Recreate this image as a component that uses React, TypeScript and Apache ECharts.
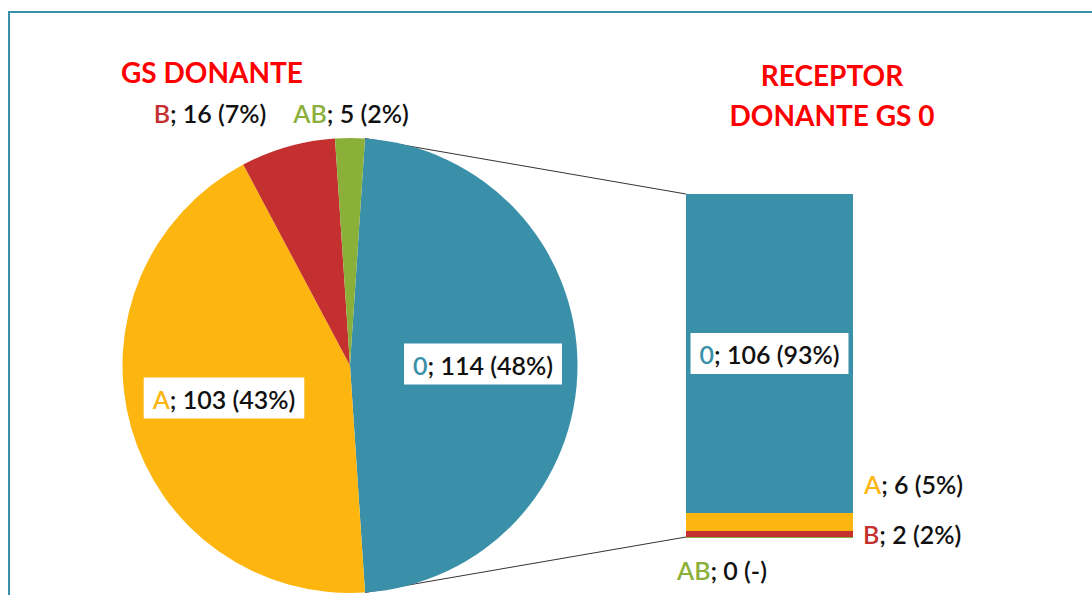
import React, { useEffect, useRef } from "react";
import * as echarts from "echarts";

const categories = ["0", "A", "B", "AB"];
const donorValues = [114, 103, 16, 5];
const donorPct = ["48%", "43%", "7%", "2%"];
const recipientValues = [106, 6, 2, 0];
const recipientPct = ["93%", "5%", "2%", "-"];
const colors = ["#3A90A8", "#FDB60F", "#C3302F", "#8BB03A"];

const FONT = "Lato";
const PIE_CX = 350;
const PIE_CY = 365.5;
const PIE_R = 227.5;
const BAR_LEFT = 686;
const BAR_TOP = 194;
const BAR_W = 167;
const BAR_H = 343;

const rich: any = {
  t: { color: "#111111", fontSize: 25, fontFamily: FONT, fontWeight: 600 },
};
categories.forEach((c, i) => {
  rich["k" + i] = { color: colors[i], fontSize: 25, fontFamily: FONT, fontWeight: 600 };
});

export default function App() {
  const ref = useRef<HTMLDivElement>(null);
  useEffect(() => {
    if (!ref.current) return;
    const chart = echarts.init(ref.current, null, { renderer: "svg" });
    const total = donorValues.reduce((a, b) => a + b, 0);
    const startAngle = (donorValues[0] / total) * 180;
    const rad = (startAngle * Math.PI) / 180;
    const topPt = [PIE_CX + PIE_R * Math.cos(rad), PIE_CY - PIE_R * Math.sin(rad)];
    const botPt = [PIE_CX + PIE_R * Math.cos(rad), PIE_CY + PIE_R * Math.sin(rad)];

    const pieLabelPos: Record<number, [number, number]> = {
      0: [483, 364],
      1: [224, 398],
      2: [210, 113],
      3: [351, 113],
    };

    const stackOrder = [3, 2, 1, 0];
    const barLabel = (i: number): any => {
      const base: any = {
        show: true,
        formatter: () => `{k${i}|${categories[i]}}{t|; ${recipientValues[i]} (${recipientPct[i]})}`,
        rich,
      };
      if (i === 0) {
        return { ...base, position: "inside", backgroundColor: "#fff", padding: [9, 9, 7, 9] };
      }
      if (i === 1) return { ...base, position: [178, -29], align: "left", verticalAlign: "middle" };
      if (i === 2) return { ...base, position: [177, 3], align: "left", verticalAlign: "middle" };
      return { ...base, position: [-8, 34], align: "left", verticalAlign: "middle" };
    };

    const option: any = {
      animation: false,
      backgroundColor: "#ffffff",
      title: [
        {
          text: "GS DONANTE",
          left: 207,
          top: 53,
          textAlign: "center",
          textStyle: { color: "#FF0000", fontSize: 28, fontWeight: "bold", fontFamily: FONT },
        },
        {
          text: "RECEPTOR\nDONANTE GS 0",
          left: 827,
          top: 50,
          textAlign: "center",
          textStyle: { color: "#FF0000", fontSize: 28, fontWeight: "bold", fontFamily: FONT, lineHeight: 40 },
        },
      ],
      grid: { left: BAR_LEFT, top: BAR_TOP, width: BAR_W, height: BAR_H },
      xAxis: { type: "category", data: ["GS 0"], show: false },
      yAxis: { type: "value", min: 0, max: donorValues[0], show: false },
      graphic: [
        {
          type: "rect",
          shape: { x: 9, y: 12, width: 1300, height: 800 },
          style: { fill: "none", stroke: "#3A90A8", lineWidth: 2 },
          z: 100,
        },
        {
          type: "line",
          shape: { x1: topPt[0], y1: topPt[1], x2: BAR_LEFT, y2: BAR_TOP },
          style: { stroke: "#333", lineWidth: 1 },
        },
        {
          type: "line",
          shape: { x1: botPt[0], y1: botPt[1], x2: BAR_LEFT, y2: BAR_TOP + BAR_H },
          style: { stroke: "#333", lineWidth: 1 },
        },
      ],
      series: [
        {
          type: "pie",
          center: [PIE_CX, PIE_CY],
          radius: PIE_R,
          startAngle,
          clockwise: true,
          avoidLabelOverlap: false,
          labelLine: { show: false },
          data: categories.map((c, i) => ({
            name: c,
            value: donorValues[i],
            itemStyle: { color: colors[i] },
            label: {
              show: true,
              position: "inside",
              formatter: `{k${i}|${c}}{t|; ${donorValues[i]} (${donorPct[i]})}`,
              rich,
              ...(i < 2 ? { backgroundColor: "#fff", padding: [9, 9, 7, 9] } : {}),
            },
          })),
          labelLayout: (p: any) => {
            const pos = pieLabelPos[p.dataIndex];
            return { x: pos[0], y: pos[1], align: "center", verticalAlign: "middle" };
          },
        },
        ...stackOrder.map((i) => ({
          type: "bar",
          name: categories[i],
          stack: "r",
          barWidth: "100%",
          data: [recipientValues[i]],
          itemStyle: i === 3 ? { color: colors[i], borderColor: colors[i], borderWidth: 2 } : { color: colors[i] },
          label: barLabel(i),
        })),
      ],
    };
    chart.setOption(option);
    return () => chart.dispose();
  }, []);
  return (
    <div
      ref={ref}
      style={{ position: "fixed", left: 0, top: 0, width: 1092, height: 595 }}
    />
  );
}
